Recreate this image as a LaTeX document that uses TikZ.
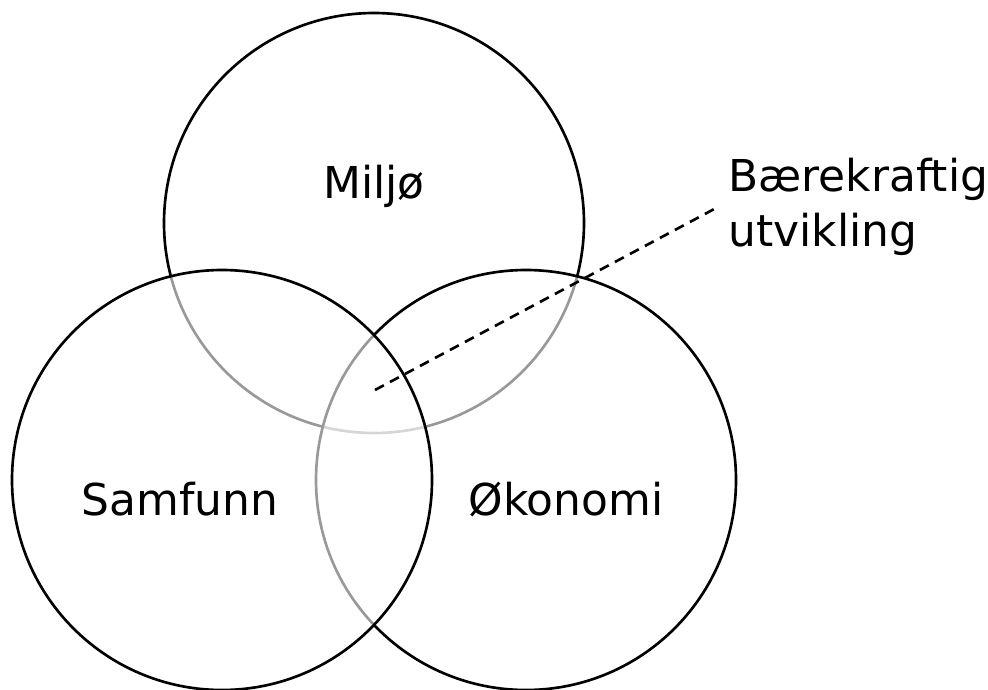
\documentclass[tikz,border=0pt]{standalone}
\usepackage{fontspec}
\setmainfont{DejaVu Sans}
\tikzset{
  ring/.style={draw=black, line width=1.5pt, fill=white, fill opacity=0.6},
  felt/.style={font=\fontsize{25}{31}\selectfont, inner sep=0pt},
}

\begin{document}
\begin{tikzpicture}[x=0.02cm, y=-0.02cm]
    \useasboundingbox (0,0) rectangle (988,690);
    % tre sirkler
    \path[ring] (374,223) circle (210);
    \path[ring] (526,480) circle (210);
    \path[ring] (222,480) circle (210);
    \node[felt, anchor=base] (miljo) at (374,198) {Miljø};
    \node[felt, anchor=base] (samfunn) at (180,515) {Samfunn};
    \node[felt, anchor=base] (okonomi) at (566,515) {Økonomi};
    % midten
    \coordinate (kjerne) at (375,390);
    \node[felt, anchor=west, align=left, inner xsep=0.2cm] (utv) at (718,207) {Bærekraftig\\utvikling};
    \draw[line width=1.5pt, dash pattern=on 0.2cm off 0.14cm] (kjerne) -- (utv.west);
\end{tikzpicture}
\end{document}
